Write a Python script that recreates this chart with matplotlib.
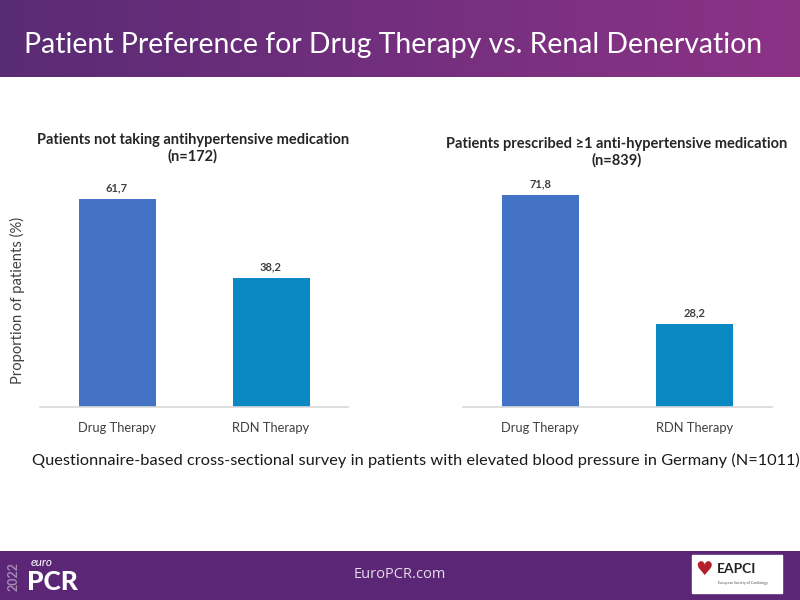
import matplotlib
matplotlib.use("Agg")
import matplotlib.pyplot as plt
import numpy as np
from matplotlib.patches import Rectangle

# ---- data ----
categories = ["Drug Therapy", "RDN Therapy"]
left_values = [61.7, 38.2]
right_values = [71.8, 28.2]
left_labels = ["61,7", "38,2"]
right_labels = ["71,8", "28,2"]
left_title = "Patients not taking antihypertensive medication\n(n=172)"
right_title = "Patients prescribed \u22651 anti-hypertensive medication\n(n=839)"
bar_colors = ["#4472C4", "#0A88C2"]

W, H = 800, 600
fig = plt.figure(figsize=(8, 6), dpi=100)
fig.patch.set_facecolor("white")
FONT = ["Lato", "DejaVu Sans"]

def fx(px):
    return px / W

def fy(py):
    return 1 - py / H

# ---- header gradient ----
hdr = fig.add_axes([0, fy(77), 1, 77 / H])
c1 = np.array([0x5a, 0x2b, 0x75]) / 255
c2 = np.array([0x8c, 0x33, 0x86]) / 255
t = np.linspace(0, 1, 256)[None, :, None]
grad = c1 + (c2 - c1) * t
hdr.imshow(grad, aspect="auto", extent=[0, 1, 0, 1])
hdr.set_axis_off()
fig.text(fx(24), fy(45), "Patient Preference for Drug Therapy vs. Renal Denervation",
         color="white", fontsize=20.4, family=FONT, va="center", ha="left")

# ---- footer ----
ftr = fig.add_axes([0, 0, 1, 49 / H])
ftr.set_xlim(0, W)
ftr.set_ylim(600, 551)
ftr.add_patch(Rectangle((0, 551), W, 49, color="#5a2675"))
ftr.set_axis_off()
ftr.text(400, 575, "EuroPCR.com", color="#e6dcea", fontsize=10.5, ha="center", va="center",
         family=["Open Sans", "DejaVu Sans"])
ftr.text(14, 577, "2022", color="#a48bb3", fontsize=9, rotation=90, ha="center", va="center",
         family=FONT, fontweight="bold")
ftr.text(31, 563, "euro", color="white", fontsize=8.5, style="italic", ha="left", va="center",
         family=FONT)
ftr.text(27, 582, "PCR", color="white", fontsize=19, fontweight="black", ha="left", va="center",
         family=FONT)
ftr.add_patch(Rectangle((692, 555), 90, 38, color="white"))
ftr.text(704, 570, "\u2665", color="#b3202a", fontsize=14, ha="center", va="center",
         family=["DejaVu Sans"])
ftr.text(717, 569, "EAPCI", color="#222222", fontsize=10, fontweight="bold", ha="left",
         va="center", family=FONT)
ftr.text(718, 583, "European Society of Cardiology", color="#555555", fontsize=2.6,
         ha="left", va="center", family=FONT)

# ---- charts ----
def make_chart(x0, x1, title, values, labels, ymax, title_x, title_y):
    top, bottom = 171, 407
    ax = fig.add_axes([fx(x0), fy(bottom), fx(x1 - x0), (bottom - top) / H])
    x = np.arange(len(categories))
    ax.bar(x, values, width=0.5, color=bar_colors)
    for xi, v, lab in zip(x, values, labels):
        ax.text(xi, v + ymax * 0.025, lab, ha="center", va="bottom", fontsize=8,
                fontweight="bold", color="#404040", family=FONT)
    ax.set_xlim(-0.5, 1.5)
    ax.set_ylim(0, ymax)
    ax.set_xticks(x)
    ax.set_xticklabels(categories, fontsize=9.3, color="#404040", family=FONT)
    ax.tick_params(axis="x", length=0, pad=11)
    ax.set_yticks([])
    for s in ["top", "right", "left"]:
        ax.spines[s].set_visible(False)
    ax.spines["bottom"].set_color("#d9d9d9")
    ax.spines["bottom"].set_linewidth(1.2)
    fig.text(fx(title_x), fy(title_y), title, ha="center", va="center", fontsize=10.5,
             fontweight="bold", color="#262626", family=FONT, linespacing=1.15)
    return ax

axL = make_chart(40, 348, left_title, left_values, left_labels, 70, 193, 148)
axR = make_chart(463, 772, right_title, right_values, right_labels, 80, 617, 152)

fig.text(fx(17), fy(300), "Proportion of patients (%)", rotation=90, ha="center",
         va="center", fontsize=10.6, color="#404040", family=FONT)

fig.text(fx(416), fy(460),
         "Questionnaire-based cross-sectional survey in patients with elevated blood pressure in Germany (N=1011)",
         ha="center", va="center", fontsize=11.75, color="#1a1a1a", family=FONT)

fig.savefig("out.png", dpi=100)
